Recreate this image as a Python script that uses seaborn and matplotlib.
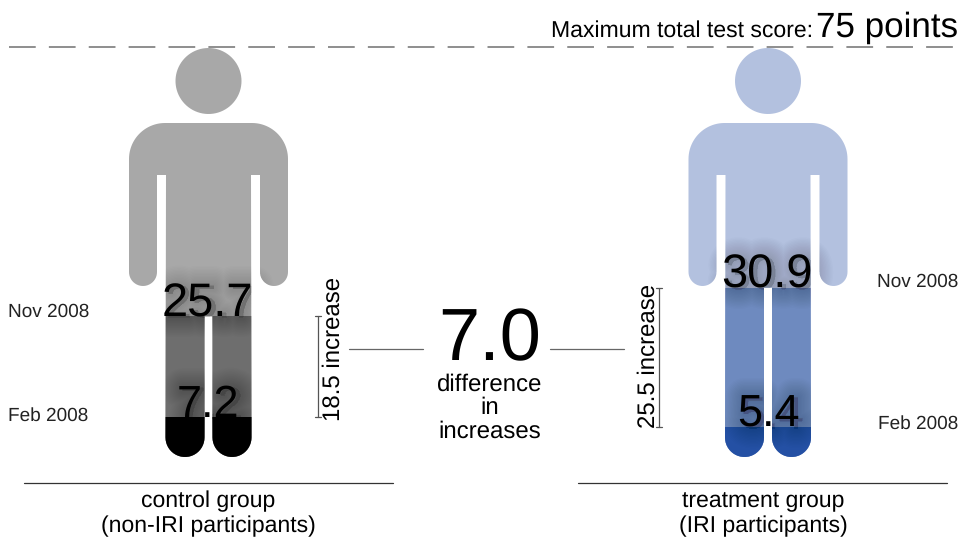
import numpy as np
import matplotlib
matplotlib.use("Agg")
import matplotlib.pyplot as plt
import matplotlib.patheffects as pe
from matplotlib.patches import PathPatch
from matplotlib.path import Path
import seaborn as sns

# values
groups = ["control group\n(non-IRI participants)", "treatment group\n(IRI participants)"]
feb_scores = [7.2, 5.4]
nov_scores = [25.7, 30.9]
increases = [18.5, 25.5]
difference = 7.0
max_score = 75

body_colors = ["#A8A8A8", "#B3C1DF"]
nov_colors = ["#6E6E6E", "#6E8ABF"]
feb_colors = ["#000000", "#2450A4"]

# layout, in pixels of the 960x543 picture
centers = [208.5, 768]
FOOT_Y = 456.5
PX_PER_POINT = (FOOT_Y - 47) / max_score


def to_score(py):
    return (FOOT_Y - py) / PX_PER_POINT


def arc(cx, cy, r, a0, a1, n=24):
    t = np.radians(np.linspace(a0, a1, n))
    return np.column_stack([cx + r * np.cos(t), cy - r * np.sin(t)])


def person_path(cx, crotch_y):
    # outline in pixels, y going down, then converted to score units
    half = [
        arc(-43.5, 159, 36, 90, 180),          # left shoulder
        arc(-65.5, 272, 14, 180, 360),         # arm end
        [[-51.5, 175], [-42.5, 175]],          # armpit
        arc(-23.5, FOOT_Y - 19, 19.5, 180, 360),  # left foot
        [[-4, crotch_y], [4, crotch_y]],
        arc(23.5, FOOT_Y - 19, 19.5, 180, 360),   # right foot
        [[42.5, 175], [51.5, 175]],
        arc(65.5, 272, 14, 180, 360),
        arc(43.5, 159, 36, 0, 90),
    ]
    outline = np.vstack(half)
    outline[:, 0] += cx
    outline[:, 1] = to_score(outline[:, 1])
    head = arc(cx, 81, 33, 0, 360, 80)
    head[:, 1] = to_score(head[:, 1])
    body = Path(np.vstack([outline, outline[:1]]), closed=True)
    return Path.make_compound_path(body, Path(head, closed=True))


sns.set_theme(style="white")
plt.rcParams["font.family"] = ["Liberation Sans", "DejaVu Sans"]
plt.rcParams["text.hinting"] = "no_hinting"
plt.rcParams["text.hinting_factor"] = 1

fig = plt.figure(figsize=(9.6, 5.43), dpi=100)
ax = fig.add_axes([0, 0, 1, 1])

people = []
for cx, nov, color in zip(centers, nov_scores, body_colors):
    crotch_y = FOOT_Y - nov * PX_PER_POINT
    patch = PathPatch(person_path(cx, crotch_y), facecolor=color, edgecolor="none", zorder=0.5)
    ax.add_patch(patch)
    people.append(patch)

# the scores are bars, cut to the shape of each person
bar_width = 100 / (centers[1] - centers[0])
for values, colors in [(nov_scores, nov_colors), (feb_scores, feb_colors)]:
    n_before = len(ax.patches)
    sns.barplot(x=centers, y=values, hue=centers, palette=colors, native_scale=True,
                width=bar_width, dodge=False, legend=False, saturation=1, linewidth=0, ax=ax)
    for bar, person in zip(ax.patches[n_before:], people):
        bar.set_clip_path(person)

ax.set_xlim(0, 960)
ax.set_ylim(to_score(543), to_score(0))
ax.axis("off")


def soft_number(x, value, person, size):
    label = f"{value:.1f}"
    shadow = ax.text(x, value, label, ha="center", va="baseline", fontsize=size,
                     color="none", zorder=3, clip_on=True)
    shadow.set_clip_path(person)
    shadow.set_path_effects([pe.Stroke(linewidth=w, foreground="black", alpha=0.012, offset=(3, -1))
                             for w in range(2, 30, 2)])
    ax.text(x, value, label, ha="center", va="baseline", fontsize=size, color="black", zorder=4)


# scores on the figures
soft_number(centers[0] - 1, nov_scores[0], people[0], 33.5)
soft_number(centers[0] - 1, feb_scores[0], people[0], 32.5)
soft_number(centers[1] - 1, nov_scores[1], people[1], 33.5)
soft_number(centers[1], feb_scores[1], people[1], 32.5)

# maximum score line
ax.plot([9, 960], [max_score, max_score], color="#707070", lw=1.1, dashes=(17.5, 8.6), zorder=5)
ax.text(813, to_score(36.5), "Maximum total test score:", ha="right", va="baseline", fontsize=16.4, color="black")
ax.text(958, to_score(36.5), f"{max_score} points", ha="right", va="baseline", fontsize=24.9, color="black")

# date labels
for x, ha, feb_py, nov_py in [(8, "left", 416, 312), (958, "right", 424, 282)]:
    ax.text(x, to_score(nov_py), "Nov 2008", ha=ha, va="center", fontsize=13.6, color="#222222")
    ax.text(x, to_score(feb_py), "Feb 2008", ha=ha, va="center", fontsize=13.6, color="#222222")

# increase brackets
bracket_x = [318, 659]
text_x = [333.5, 648.5]
text_py = [349, 356]
for bx, tx, ty, feb, nov, inc in zip(bracket_x, text_x, text_py, feb_scores, nov_scores, increases):
    ax.plot([bx, bx], [feb, nov], color="#555555", lw=0.9)
    ax.plot([bx - 3, bx + 3], [feb, feb], color="#555555", lw=0.9)
    ax.plot([bx - 3, bx + 3], [nov, nov], color="#555555", lw=0.9)
    ax.text(tx, to_score(ty), f"{inc} increase", rotation=90, ha="center", va="center",
            fontsize=17, color="black")

# difference in the middle
ax.plot([349, 423], [to_score(349)] * 2, color="#666666", lw=0.9)
ax.plot([550, 624], [to_score(349)] * 2, color="#666666", lw=0.9)
ax.text(490, to_score(360), f"{difference:.1f}", ha="center", va="baseline", fontsize=53, color="black")
ax.text(489.5, to_score(408), "difference\nin\nincreases", ha="center", va="center", fontsize=17.2,
        color="black", linespacing=1.07)

# group captions
for x0, x1, tx, name in zip([24, 578], [393, 947], [208.5, 763], groups):
    ax.plot([x0, x1], [to_score(483)] * 2, color="#333333", lw=0.9)
    ax.text(tx, to_score(514), name, ha="center", va="center", fontsize=16.5, color="black", linespacing=1.2)

fig.savefig("out.png", dpi=100)
plt.close(fig)
